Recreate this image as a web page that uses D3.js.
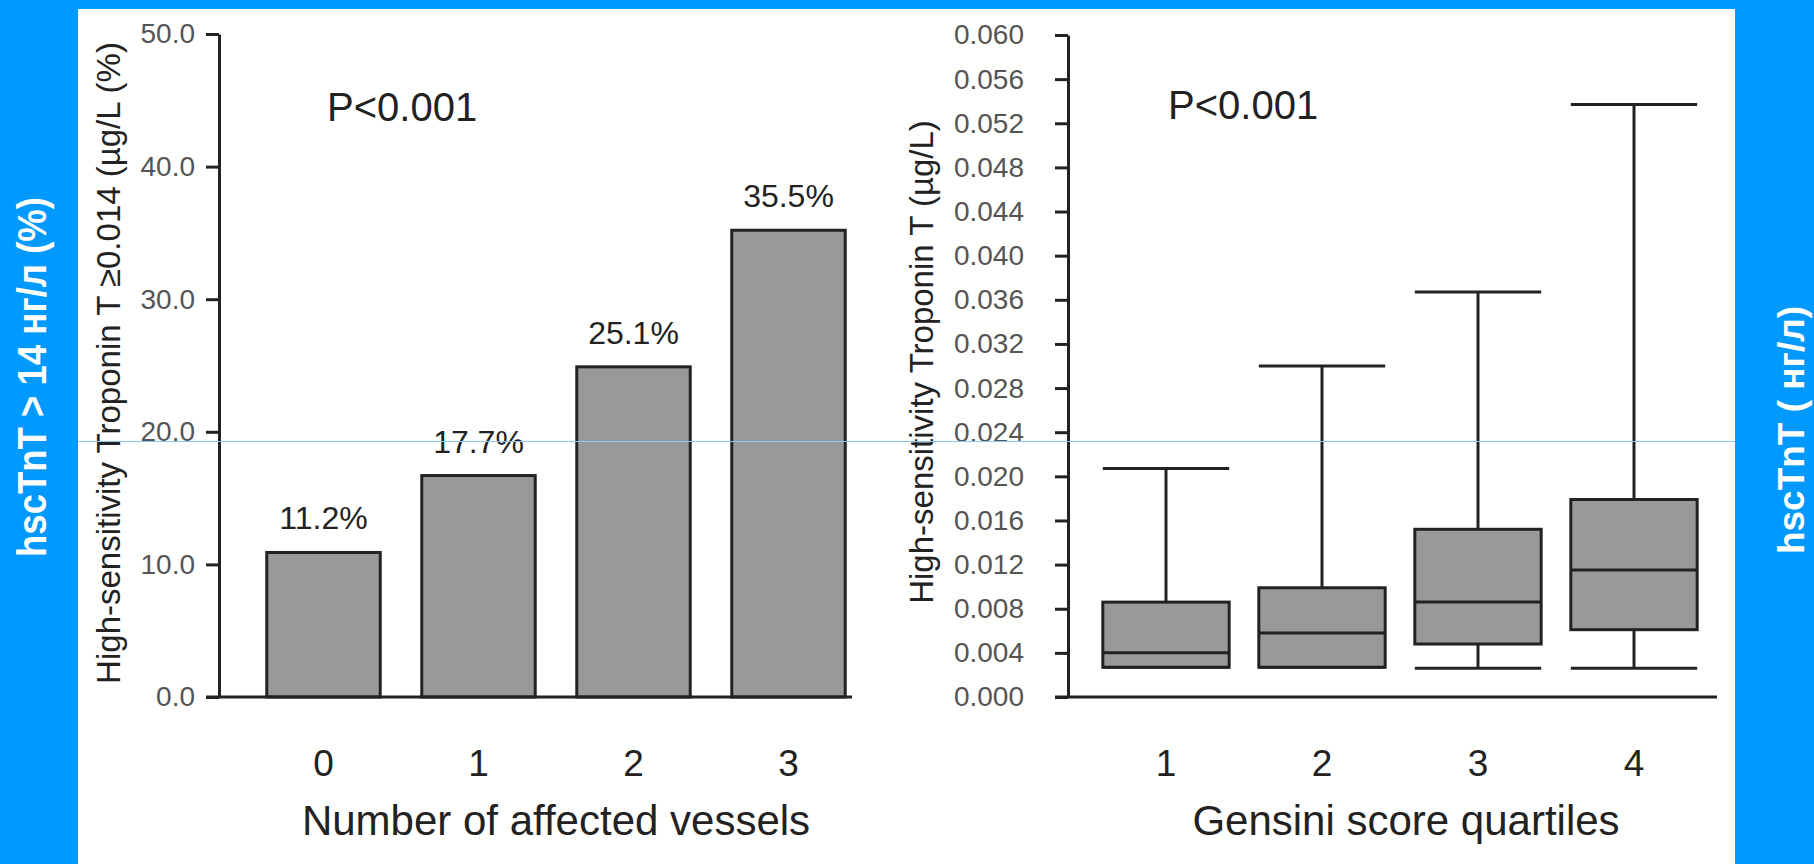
<!DOCTYPE html>
<html>
<head>
<meta charset="utf-8">
<script src="https://cdn.jsdelivr.net/npm/d3@7"></script>
<style>
body { margin: 0; background: #0099ff; }
text { font-family: "Liberation Sans", Arial, sans-serif; }
.axis path, .axis line { stroke: #222; stroke-width: 3; }
.axis text { font-size: 28px; fill: #555; }
.cat path { display: none; }
.cat text { font-size: 37px; fill: #222; }
</style>
</head>
<body>
<svg class="chart"></svg>
<script>
// left: share of patients with hscTnT >= 0.014 by number of affected vessels
var vessels = ["0", "1", "2", "3"];
var positivePct = [10.9, 16.7, 24.9, 35.2];
var pctLabels = ["11.2%", "17.7%", "25.1%", "35.5%"];
var leftTicks = [0, 10, 20, 30, 40, 50];

// right: hscTnT by Gensini score quartile
var quartiles = ["1", "2", "3", "4"];
var whiskLow = [0.0027, 0.0027, 0.0026, 0.0026];
var q1 = [0.0027, 0.0027, 0.0048, 0.0061];
var median = [0.0040, 0.0058, 0.0086, 0.0115];
var q3 = [0.0086, 0.0099, 0.0152, 0.0179];
var whiskHigh = [0.0207, 0.0300, 0.0367, 0.0537];
var rightTicks = [0, 0.004, 0.008, 0.012, 0.016, 0.020, 0.024, 0.028,
                  0.032, 0.036, 0.040, 0.044, 0.048, 0.052, 0.056, 0.060];

var width = 1814;
var height = 864;
var base = 697;

var svg = d3.select(".chart")
            .attr("width", width)
            .attr("height", height);

svg.append("rect")
    .attr("width", width)
    .attr("height", height)
    .attr("fill", "#0099ff");

svg.append("rect")
    .attr("x", 78)
    .attr("y", 9)
    .attr("width", 1657)
    .attr("height", height - 9)
    .attr("fill", "#fff");

// ---- left chart ----
var x1 = d3.scaleBand()
            .domain(vessels)
            .range([246, 866])
            .paddingInner(0.268)
            .paddingOuter(0.134);
var y1 = d3.scaleLinear()
            .domain([0, 50])
            .range([base, 34]);

svg.selectAll(".bar")
    .data(positivePct)
    .enter()
    .append("rect")
    .attr("class", "bar")
    .attr("x", function(d, i) { return x1(vessels[i]); })
    .attr("y", function(d) { return y1(d); })
    .attr("width", x1.bandwidth())
    .attr("height", function(d) { return base - y1(d); })
    .attr("fill", "#999")
    .attr("stroke", "#222")
    .attr("stroke-width", 3);

svg.selectAll(".barlabel")
    .data(positivePct)
    .enter()
    .append("text")
    .attr("class", "barlabel")
    .attr("x", function(d, i) { return x1(vessels[i]) + x1.bandwidth() / 2; })
    .attr("y", function(d) { return y1(d) - 23; })
    .attr("text-anchor", "middle")
    .attr("font-size", 32)
    .attr("fill", "#222")
    .text(function(d, i) { return pctLabels[i]; });

svg.append("g")
    .attr("class", "axis")
    .attr("transform", "translate(219,0)")
    .call(d3.axisLeft(y1).tickValues(leftTicks).tickFormat(d3.format(".1f"))
            .tickSize(13).tickSizeOuter(0).tickPadding(11));

svg.append("line")
    .attr("x1", 206).attr("x2", 852)
    .attr("y1", base).attr("y2", base)
    .attr("stroke", "#222").attr("stroke-width", 3);

svg.append("g")
    .attr("class", "cat")
    .attr("transform", "translate(0," + base + ")")
    .call(d3.axisBottom(x1).tickSize(0).tickPadding(53));

// ---- right chart ----
var x2 = d3.scaleBand()
            .domain(quartiles)
            .range([1088, 1712])
            .paddingInner(0.19)
            .paddingOuter(0.095);
var y2 = d3.scaleLinear()
            .domain([0, 0.06])
            .range([base, 35]);

var boxes = svg.selectAll(".box")
                .data(quartiles)
                .enter()
                .append("g")
                .attr("class", "box")
                .attr("stroke", "#222")
                .attr("stroke-width", 3);

boxes.append("line")
    .attr("x1", function(d) { return x2(d) + x2.bandwidth() / 2; })
    .attr("x2", function(d) { return x2(d) + x2.bandwidth() / 2; })
    .attr("y1", function(d, i) { return y2(whiskHigh[i]); })
    .attr("y2", function(d, i) { return y2(whiskLow[i]); });

boxes.append("line")
    .attr("x1", function(d) { return x2(d); })
    .attr("x2", function(d) { return x2(d) + x2.bandwidth(); })
    .attr("y1", function(d, i) { return y2(whiskHigh[i]); })
    .attr("y2", function(d, i) { return y2(whiskHigh[i]); });

boxes.append("line")
    .attr("x1", function(d) { return x2(d); })
    .attr("x2", function(d) { return x2(d) + x2.bandwidth(); })
    .attr("y1", function(d, i) { return y2(whiskLow[i]); })
    .attr("y2", function(d, i) { return y2(whiskLow[i]); });

boxes.append("rect")
    .attr("x", function(d) { return x2(d); })
    .attr("y", function(d, i) { return y2(q3[i]); })
    .attr("width", x2.bandwidth())
    .attr("height", function(d, i) { return y2(q1[i]) - y2(q3[i]); })
    .attr("fill", "#999");

boxes.append("line")
    .attr("x1", function(d) { return x2(d); })
    .attr("x2", function(d) { return x2(d) + x2.bandwidth(); })
    .attr("y1", function(d, i) { return y2(median[i]); })
    .attr("y2", function(d, i) { return y2(median[i]); });

svg.append("g")
    .attr("class", "axis")
    .attr("transform", "translate(1068,0)")
    .call(d3.axisLeft(y2).tickValues(rightTicks).tickFormat(d3.format(".3f"))
            .tickSize(13).tickSizeOuter(0).tickPadding(31));

svg.append("line")
    .attr("x1", 1055).attr("x2", 1717)
    .attr("y1", base).attr("y2", base)
    .attr("stroke", "#222").attr("stroke-width", 3);

svg.append("g")
    .attr("class", "cat")
    .attr("transform", "translate(0," + base + ")")
    .call(d3.axisBottom(x2).tickSize(0).tickPadding(53));

// ---- texts ----
svg.append("text").attr("x", 327).attr("y", 121)
    .attr("font-size", 40).attr("fill", "#222").text("P<0.001");
svg.append("text").attr("x", 1168).attr("y", 119)
    .attr("font-size", 40).attr("fill", "#222").text("P<0.001");

svg.append("text").attr("x", 556).attr("y", 835)
    .attr("text-anchor", "middle").attr("font-size", 42).attr("fill", "#222")
    .text("Number of affected vessels");
svg.append("text").attr("x", 1406).attr("y", 835)
    .attr("text-anchor", "middle").attr("font-size", 42).attr("fill", "#222")
    .text("Gensini score quartiles");

svg.append("text")
    .attr("transform", "translate(120,363) rotate(-90)")
    .attr("text-anchor", "middle").attr("font-size", 33).attr("fill", "#222")
    .text("High-sensitivity Troponin T \u22650.014 (\u00b5g/L (%)");
svg.append("text")
    .attr("transform", "translate(933,362) rotate(-90)")
    .attr("text-anchor", "middle").attr("font-size", 33).attr("fill", "#222")
    .text("High-sensitivity Troponin T (\u00b5g/L)");

svg.append("text")
    .attr("transform", "translate(46,377) rotate(-90)")
    .attr("text-anchor", "middle").attr("font-size", 40)
    .attr("font-weight", "bold").attr("fill", "#fff")
    .attr("textLength", 360).attr("lengthAdjust", "spacingAndGlyphs")
    .text("hscTnT > 14 нг/л (%)");
svg.append("text")
    .attr("transform", "translate(1804,430) rotate(-90)")
    .attr("text-anchor", "middle").attr("font-size", 37)
    .attr("font-weight", "bold").attr("fill", "#fff")
    .attr("textLength", 248).attr("lengthAdjust", "spacingAndGlyphs")
    .text("hscTnT ( нг/л)");

// thin guide line across the slide
svg.append("line")
    .attr("x1", 78).attr("x2", 1735)
    .attr("y1", 441.5).attr("y2", 441.5)
    .attr("stroke", "#8cc8f5").attr("stroke-width", 1);
</script>
</body>
</html>
